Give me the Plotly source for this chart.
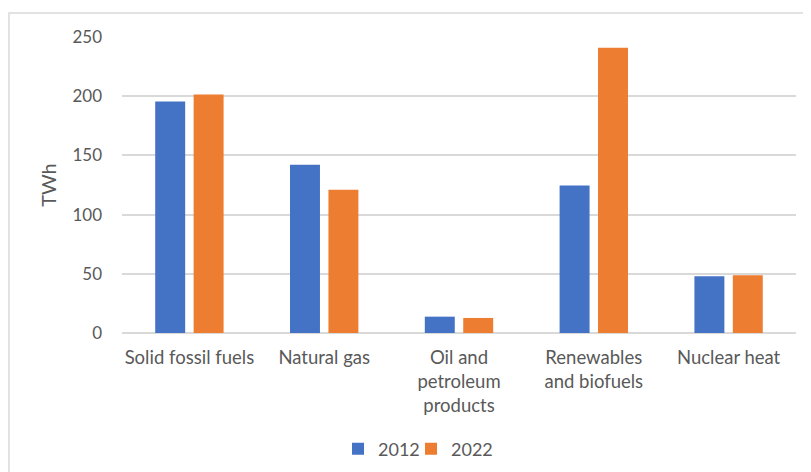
import plotly.graph_objects as go

categories = ["Solid fossil fuels", "Natural gas", "Oil and<br>petroleum<br>products",
              "Renewables<br>and biofuels", "Nuclear heat"]
values_2012 = [195.5, 142, 13.8, 124.5, 48]
values_2022 = [201.5, 121, 12.7, 241, 48.8]
series_names = ["2012", "2022"]
yticks = [0, 50, 100, 150, 200, 250]

font_family = "Lato, 'Open Sans', sans-serif"
grey = "#595959"

fig = go.Figure()
fig.add_trace(go.Bar(x=categories, y=values_2012, name=series_names[0], legend="legend",
                     marker=dict(color="#4472C4", line=dict(width=0))))
fig.add_trace(go.Bar(x=categories, y=values_2022, name=series_names[1], legend="legend2",
                     marker=dict(color="#ED7D31", line=dict(width=0))))

legend_common = dict(orientation="h", xanchor="left", y=-0.392, yanchor="middle",
                     font=dict(size=18, color=grey), itemwidth=30,
                     bgcolor="rgba(0,0,0,0)")

fig.update_layout(
    width=811, height=472,
    margin=dict(l=114, r=23, t=29, b=147),
    paper_bgcolor="white", plot_bgcolor="white",
    barmode="group", bargap=0.43, bargroupgap=0.22,
    font=dict(family=font_family, size=18, color=grey),
    showlegend=True,
    legend=dict(x=0.3205, **legend_common),
    legend2=dict(x=0.4288, **legend_common),
    xaxis=dict(showgrid=False, showline=False, ticks="", ticklabelstandoff=11,
               tickfont=dict(size=18.5, color=grey)),
    yaxis=dict(range=[0, 250], tickvals=yticks, showgrid=True, gridcolor="#d9d9d9",
               gridwidth=1.5, zeroline=True, zerolinecolor="#d9d9d9", zerolinewidth=1.5,
               showline=False, ticks="", ticklabelstandoff=19,
               tickfont=dict(size=17, color=grey),
               title=dict(text="TWh", font=dict(size=20, color=grey), standoff=10)),
)

fig.add_shape(type="rect", xref="paper", yref="paper",
              x0=-0.1677, x1=1.03, y0=-0.5, y1=1.081,
              line=dict(color="#d9d9d9", width=1.5), fillcolor="rgba(0,0,0,0)", layer="below")

fig.write_html("out.html")
